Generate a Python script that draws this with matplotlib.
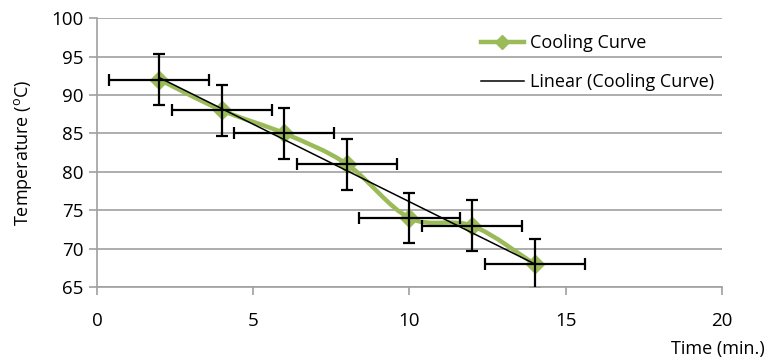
import numpy as np
import matplotlib.pyplot as plt
from matplotlib.path import Path
from matplotlib.patches import PathPatch
from matplotlib.lines import Line2D

# readings
time_min = [2, 4, 6, 8, 10, 12, 14]
temp_c = [92, 88, 85, 81, 74, 73, 68]
x_err = 1.6
y_err = 3.3

green = '#9BBB59'
grid = '#A0A0A0'
plt.rcParams['font.family'] = ['Open Sans', 'DejaVu Sans']

fig = plt.figure(figsize=(7.69, 3.63), dpi=100)
ax = fig.add_axes([0.126, 0.209, 0.813, 0.741])

# smoothed line like Excel (Catmull-Rom -> bezier)
x = np.array(time_min, float)
y = np.array(temp_c, float)
verts = [(x[0], y[0])]
codes = [Path.MOVETO]
for i in range(len(x) - 1):
    p0 = np.array([x[max(i - 1, 0)], y[max(i - 1, 0)]])
    p1 = np.array([x[i], y[i]])
    p2 = np.array([x[i + 1], y[i + 1]])
    p3 = np.array([x[min(i + 2, len(x) - 1)], y[min(i + 2, len(x) - 1)]])
    c1 = p1 + (p2 - p0) / 6
    c2 = p2 - (p3 - p1) / 6
    verts += [tuple(c1), tuple(c2), tuple(p2)]
    codes += [Path.CURVE4] * 3
ax.add_patch(PathPatch(Path(verts, codes), facecolor='none', edgecolor=green,
                       lw=3.2, zorder=3, capstyle='round', joinstyle='round'))
ax.plot(time_min, temp_c, 'D', color=green, ms=9, zorder=4)

ax.errorbar(time_min, temp_c, xerr=x_err, yerr=y_err, fmt='none', ecolor='black',
            elinewidth=1.6, capsize=4, capthick=1.6, zorder=5)

# linear trendline
m, b = np.polyfit(x, y, 1)
ax.plot([x[0], x[-1]], [m * x[0] + b, m * x[-1] + b], color='black', lw=1.1, zorder=6)

ax.set_xlim(0, 20)
ax.set_ylim(65, 100)
ax.set_xticks([0, 5, 10, 15, 20])
ax.set_yticks(range(65, 101, 5))
ax.yaxis.grid(True, color=grid, lw=1.2)
ax.set_axisbelow(True)
for s in ['top', 'right']:
    ax.spines[s].set_visible(False)
for s in ['left', 'bottom']:
    ax.spines[s].set_color(grid)
    ax.spines[s].set_linewidth(1.2)
ax.tick_params(axis='both', colors=grid, width=1.2, length=6, labelcolor='black', labelsize=13.5)
ax.tick_params(axis='x', pad=12)

ax.set_ylabel('Temperature ($\\mathregular{^{o}}$C)', fontsize=13)
ax.yaxis.set_label_coords(-0.10, 0.5)
fig.text(0.995, 0.015, 'Time (min.)', ha='right', va='bottom', fontsize=13)

handles = [Line2D([], [], color=green, lw=3.2, marker='D', ms=7),
           Line2D([], [], color='black', lw=1.1)]
ax.legend(handles, ['Cooling Curve', 'Linear (Cooling Curve)'], loc='upper left',
          bbox_to_anchor=(0.614, 0.94), frameon=False, fontsize=13, handlelength=2.4,
          handletextpad=0.3, labelspacing=1.15, borderpad=0, borderaxespad=0)

fig.savefig('out.png', dpi=100)
